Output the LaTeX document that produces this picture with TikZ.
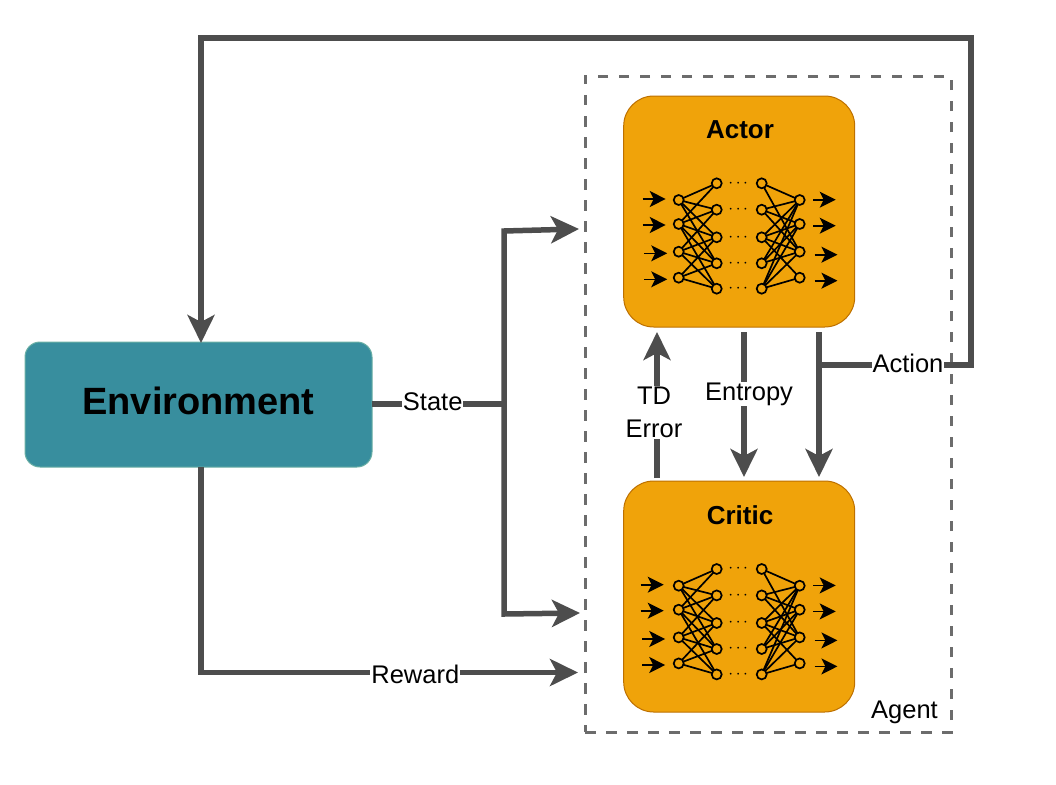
\documentclass[tikz,border=0pt]{standalone}
\usepackage{fontspec}
\setmainfont{Liberation Sans}
\usepackage{tikz}
\usetikzlibrary{
    arrows.meta,
    positioning,
    calc
}
\definecolor{Cteal}{RGB}{56, 142, 158}
\definecolor{Ctealline}{RGB}{106, 175, 165}
\definecolor{Corange}{RGB}{240, 163, 10}
\definecolor{Corangeline}{RGB}{189, 112, 0}
\definecolor{Cline}{RGB}{77, 77, 77}
\definecolor{Cdash}{RGB}{108, 108, 108}
\tikzset{
    envbox/.style={
        rectangle, rounded corners=15pt, draw=Ctealline, line width=1.0pt,
        fill=Cteal, text=black, minimum width=347pt, minimum height=125pt,
        align=center, inner sep=0pt, outer sep=0pt
    },
    netbox/.style={
        rectangle, rounded corners=30pt, draw=Corangeline, line width=1.0pt,
        fill=Corange, minimum width=231pt, minimum height=231pt, inner sep=0pt, outer sep=0pt
    },
    nettitle/.style={font=\fontsize{26}{28}\selectfont\bfseries, inner sep=0pt},
    elabel/.style={
        fill=white, text=black, inner sep=1pt, align=center,
        font=\fontsize{25.5}{33}\selectfont
    },
    carr/.style={-{Stealth[length=28pt, width=27pt, inset=7pt]}, line width=5.5pt, Cline, shorten >=-1pt},
    cline/.style={line width=5.5pt, Cline},
    neuron/.style={circle, draw=black, line width=1.7pt, fill=none, minimum size=10pt, inner sep=0pt, outer sep=0pt},
    weight/.style={line width=1.7pt, black},
    sarr/.style={-{Stealth[length=16pt, width=16pt, inset=4pt]}, line width=1.6pt, black},
    pics/nnet/.style={code={
        % neurons of the four columns
        \foreach \n/\y in {1/-11.5, 2/12.5, 3/40.2, 4/66.2}{
            \node [neuron] (a\n) at (-60.5,\y) {};
            \node [neuron] (d\n) at (60.5,\y) {};
        }
        \foreach \n/\y in {1/-28.2, 2/-1.8, 3/25.8, 4/51.8, 5/77.2}{
            \node [neuron] (b\n) at (-22.5,\y) {};
            \node [neuron] (c\n) at (22.5,\y) {};
            \node [font=\fontsize{16}{16}\selectfont, inner sep=0pt] (gap\n) at (-1,\y) {$\cdot$\,$\cdot$\,$\cdot$};
        }
        % weights
        \foreach \i/\j in {1/1,1/2,1/3,1/4,2/1,2/2,2/3,2/4,2/5,3/2,3/3,3/4,3/5,4/3,4/4,4/5}
            \draw [weight] (a\i) -- (b\j);
        \foreach \i/\j in {1/1,1/3,2/1,2/2,2/3,3/1,3/2,3/3,3/4,4/1,4/2,4/3,5/1,5/2,5/3,5/4}
            \draw [weight] (c\i) -- (d\j);
        % inputs and outputs
        \foreach \n/\y/\xa/\xb in {1/-12.5/-96.5/-73.5, 2/13.5/-96.5/-73.5, 3/41.8/-95/-72, 4/67.8/-95/-72}{
            \coordinate (ins\n) at ($(\xa,\y)+(#1,0)$);
            \coordinate (ine\n) at ($(\xb,\y)+(#1,0)$);
            \draw [sarr] (ins\n) -- (ine\n);
        }
        \foreach \n/\y/\xa/\xb in {1/-11.8/73.8/96.5, 2/14.2/73.8/96.5, 3/43.2/75.5/98.2, 4/69.2/75.5/98.2}{
            \coordinate (outs\n) at (\xa,\y);
            \coordinate (oute\n) at (\xb,\y);
            \draw [sarr] (outs\n) -- (oute\n);
        }
    }},
}
\begin{document}
\begin{tikzpicture}[x=1pt, y=-1pt]

    \useasboundingbox (0,0) rectangle (1056,784);

    % dashed frame of the agent
    \node [draw=Cdash, dash pattern=on 10.5pt off 10.5pt, line width=3pt,
           minimum width=366pt, minimum height=656pt, inner sep=0pt, outer sep=0pt]
           (agent) at (768,404) {};
    \node [elabel, fill=none, anchor=south east, xshift=-12pt, yshift=7pt] (agentlabel) at (agent.south east) {Agent};

    % boxes
    \node [envbox] (env) at (198.5,404.5) {};
    \node [font=\fontsize{38}{42}\selectfont\bfseries, inner sep=0pt] (envlabel) at (198.5,401) {Environment};
    \node [netbox] (actor) at (739.2,211.5) {};
    \node [netbox, below=154pt of actor] (critic) {};
    \node [nettitle] (actortitle) at (740,130) {Actor};
    \node [nettitle] (critictitle) at (740,515) {Critic};

    % networks
    \pic (actornet) at (actor.center) {nnet={0}};
    \pic (criticnet) at ([yshift=-0.7pt]critic.center) {nnet={-2}};

    % bends and free ends
    \coordinate (statejoin) at (504,404);
    \coordinate (stateup) at (504,231);
    \coordinate (statedown) at (504,614);
    \coordinate (stateactor) at (578,229);
    \coordinate (statecritic) at (579,613);
    \coordinate (rewardbend) at (201,672.5);
    \coordinate (rewardend) at (577,672.5);
    \coordinate (topleft) at (201,38);
    \coordinate (topright) at (971,38);
    \coordinate (actionright) at (971,365);
    \coordinate (actionjoin) at (819,365);
    \coordinate (tdfrom) at (657,478);
    \coordinate (tdto) at (657,333);
    \coordinate (entropyfrom) at (744,332);
    \coordinate (entropyto) at (744,476);
    \coordinate (actionfrom) at (819,332);
    \coordinate (actionto) at (819,476);

    % arrows
    \draw [cline] (env.east |- statejoin) -- node[elabel, pos=0.46, yshift=2pt]{State} (statejoin);
    \draw [carr] (statejoin) -- (stateup) -- (stateactor);
    \draw [carr] (statejoin) -- (statedown) -- (statecritic);
    \draw [carr] (env.south -| rewardbend) -- (rewardbend) -- node[elabel, pos=0.57, yshift=-2pt]{Reward} (rewardend);
    \draw [carr] (actionjoin) -- node[elabel, pos=0.585, yshift=2pt]{Action} (actionright) -- (topright) -- (topleft) -- (env.north -| topleft);
    \draw [carr] (tdfrom) -- node[elabel, pos=0.445, xshift=-3pt, yshift=1pt]{TD\\Error} (tdto);
    \draw [carr] (entropyfrom) -- node[elabel, pos=0.43, xshift=5pt]{Entropy} (entropyto);
    \draw [carr] (actionfrom) -- (actionto);

\end{tikzpicture}
\end{document}
